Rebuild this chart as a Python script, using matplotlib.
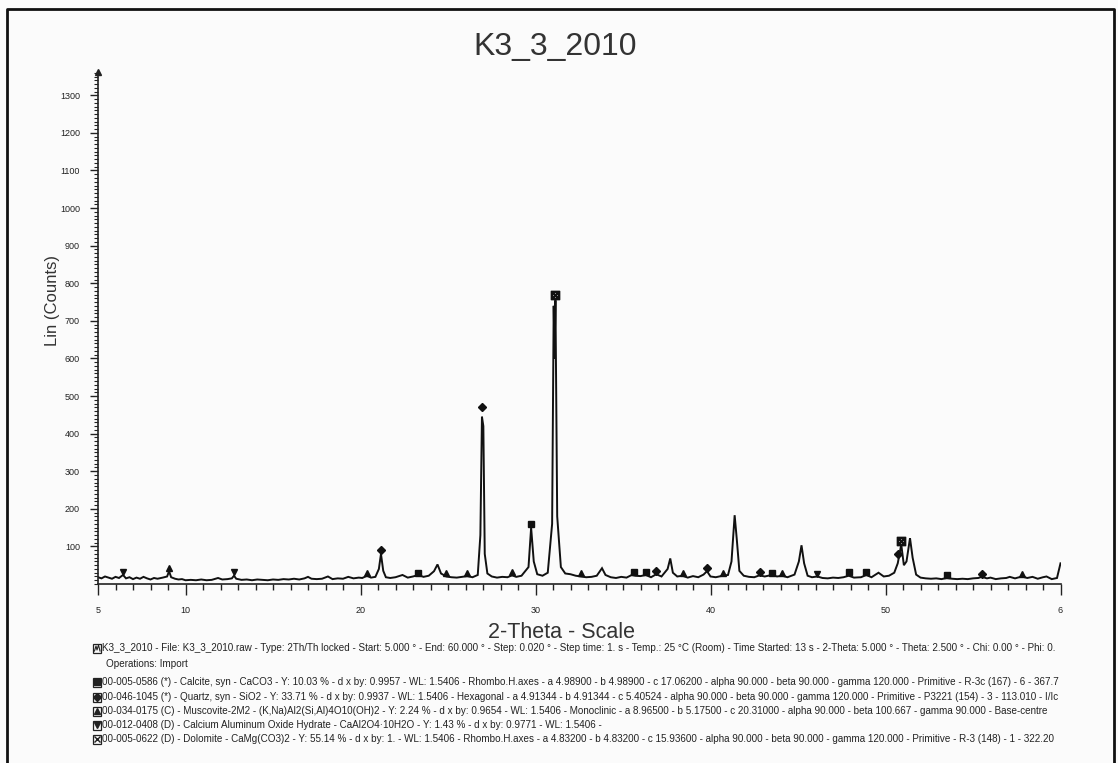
import matplotlib
matplotlib.use('Agg')
import matplotlib.pyplot as plt
from matplotlib.patches import Rectangle
from matplotlib.ticker import MultipleLocator

plt.rcParams['font.family'] = ['Liberation Sans', 'DejaVu Sans']

# Scan K3_3_2010 (2-theta, counts)
two_theta = [5.00, 5.2, 5.4, 5.6, 5.8, 6.0, 6.2, 6.43, 6.6, 6.8, 7.0, 7.2, 7.4, 7.6, 7.8,
             8.0, 8.2, 8.4, 8.7, 8.95, 9.06, 9.18, 9.4, 9.6, 9.8, 10.0, 10.3, 10.6, 10.9,
             11.2, 11.5, 11.86, 12.1, 12.4, 12.65, 12.77, 12.9, 13.2, 13.5, 13.8, 14.1,
             14.4, 14.7, 15.0, 15.3, 15.6, 15.9, 16.2, 16.5, 16.8, 17.0, 17.2, 17.5, 17.8,
             18.14, 18.4, 18.7, 19.0, 19.3, 19.6, 19.9, 20.1, 20.37, 20.6, 20.85, 21.05,
             21.17, 21.3, 21.45, 21.7, 22.0, 22.4, 22.7, 23.0, 23.3, 23.6, 23.9, 24.2,
             24.4, 24.6, 24.9, 25.2, 25.5, 25.8, 26.1, 26.4, 26.7, 26.85, 26.94, 27.02,
             27.1, 27.25, 27.5, 27.8, 28.1, 28.4, 28.66, 28.9, 29.2, 29.6, 29.75, 29.9,
             30.1, 30.4, 30.7, 30.95, 31.04, 31.09, 31.14, 31.24, 31.45, 31.7, 32.0, 32.3,
             32.6, 32.9, 33.2, 33.5, 33.8, 34.0, 34.3, 34.6, 34.9, 35.2, 35.5, 35.7, 36.0,
             36.3, 36.6, 36.9, 37.2, 37.55, 37.7, 37.85, 38.1, 38.4, 38.7, 39.0, 39.3,
             39.6, 39.8, 40.0, 40.3, 40.7, 41.0, 41.2, 41.38, 41.5, 41.65, 41.9, 42.2,
             42.5, 42.8, 43.1, 43.5, 43.8, 44.1, 44.4, 44.8, 45.05, 45.2, 45.35, 45.55,
             45.8, 46.1, 46.4, 46.7, 47.0, 47.3, 47.6, 47.9, 48.2, 48.6, 48.9, 49.2, 49.6,
             49.9, 50.2, 50.5, 50.7, 50.9, 51.05, 51.2, 51.4, 51.55, 51.75, 52.0, 52.3,
             52.6, 52.9, 53.2, 53.5, 53.8, 54.1, 54.4, 54.7, 55.0, 55.3, 55.5, 55.8, 56.0,
             56.3, 56.6, 56.9, 57.1, 57.4, 57.8, 58.1, 58.4, 58.7, 59.0, 59.2, 59.5, 59.8,
             60.0]
counts = [18, 15, 20, 17, 14, 19, 16, 24, 15, 18, 13, 17, 14, 19, 15,
          12, 16, 14, 17, 20, 34, 18, 14, 12, 13, 10, 11, 10, 12,
          10, 11, 16, 12, 13, 15, 22, 14, 11, 12, 10, 12,
          11, 10, 12, 11, 13, 12, 14, 12, 15, 19, 14, 13, 14,
          20, 13, 15, 14, 19, 15, 17, 16, 22, 17, 19, 40,
          80, 35, 18, 16, 18, 24, 17, 20, 24, 19, 22, 34,
          52, 28, 20, 18, 17, 19, 21, 18, 24, 130, 445, 420,
          80, 28, 20, 17, 19, 18, 23, 19, 22, 45, 150, 60,
          26, 22, 30, 160, 740, 600, 755, 180, 45, 28, 26, 22,
          20, 18, 19, 22, 42, 24, 18, 16, 19, 17, 24, 22, 21,
          24, 18, 26, 20, 40, 68, 30, 20, 22, 17, 21, 18,
          25, 34, 20, 18, 22, 24, 60, 183, 120, 35, 22, 19,
          18, 23, 20, 24, 20, 22, 18, 25, 60, 103, 55, 22,
          18, 20, 16, 15, 17, 16, 18, 22, 17, 18, 24, 18, 30,
          20, 22, 30, 55, 105, 50, 60, 122, 70, 25, 17, 15,
          14, 15, 13, 16, 14, 13, 14, 13, 15, 16, 19, 15, 17,
          13, 15, 16, 19, 15, 20, 16, 19, 14, 18, 20, 13, 16,
          55]

# phase markers (2-theta, marker height)
calcite_pos = [23.3, 29.75, 35.6, 36.3, 43.5, 47.9, 48.9, 53.5]
calcite_y = [28, 160, 32, 32, 30, 32, 32, 24]
quartz_pos = [21.17, 26.94, 36.9, 39.8, 42.8, 50.7, 55.5]
quartz_y = [90, 470, 34, 42, 32, 80, 26]
muscovite_pos = [9.06, 20.37, 24.9, 26.1, 28.66, 32.6, 38.4, 40.7, 44.1, 57.8]
muscovite_y = [42, 30, 30, 30, 32, 30, 28, 30, 30, 26]
caal_pos = [6.43, 12.77, 46.1]
caal_y = [32, 32, 26]
dolomite_pos = [31.09, 50.9]
dolomite_y = [770, 114]

x_ticks = [5, 10, 20, 30, 40, 50, 60]
x_tick_labels = ['5', '10', '20', '30', '40', '50', '6']
y_ticks = list(range(100, 1400, 100))

legend_lines = [
    "K3_3_2010 - File: K3_3_2010.raw - Type: 2Th/Th locked - Start: 5.000 \u00b0 - End: 60.000 \u00b0 - Step: 0.020 \u00b0 - Step time: 1. s - Temp.: 25 \u00b0C (Room) - Time Started: 13 s - 2-Theta: 5.000 \u00b0 - Theta: 2.500 \u00b0 - Chi: 0.00 \u00b0 - Phi: 0.",
    "Operations: Import",
    "00-005-0586 (*) - Calcite, syn - CaCO3 - Y: 10.03 % - d x by: 0.9957 - WL: 1.5406 - Rhombo.H.axes - a 4.98900 - b 4.98900 - c 17.06200 - alpha 90.000 - beta 90.000 - gamma 120.000 - Primitive - R-3c (167) - 6 - 367.7",
    "00-046-1045 (*) - Quartz, syn - SiO2 - Y: 33.71 % - d x by: 0.9937 - WL: 1.5406 - Hexagonal - a 4.91344 - b 4.91344 - c 5.40524 - alpha 90.000 - beta 90.000 - gamma 120.000 - Primitive - P3221 (154) - 3 - 113.010 - I/Ic",
    "00-034-0175 (C) - Muscovite-2M2 - (K,Na)Al2(Si,Al)4O10(OH)2 - Y: 2.24 % - d x by: 0.9654 - WL: 1.5406 - Monoclinic - a 8.96500 - b 5.17500 - c 20.31000 - alpha 90.000 - beta 100.667 - gamma 90.000 - Base-centre",
    "00-012-0408 (D) - Calcium Aluminum Oxide Hydrate - CaAl2O4\u00b710H2O - Y: 1.43 % - d x by: 0.9771 - WL: 1.5406 -",
    "00-005-0622 (D) - Dolomite - CaMg(CO3)2 - Y: 55.14 % - d x by: 1. - WL: 1.5406 - Rhombo.H.axes - a 4.83200 - b 4.83200 - c 15.93600 - alpha 90.000 - beta 90.000 - gamma 120.000 - Primitive - R-3 (148) - 1 - 322.20",
]

W, H = 1118, 763
fig = plt.figure(figsize=(W / 100, H / 100), dpi=100, facecolor='#fbfbfb')

ax = fig.add_axes([98 / W, 1 - 584 / H, (1060.5 - 98) / W, (584 - 72) / H])
ax.set_facecolor('none')
ax.plot(two_theta, counts, color='#111111', lw=1.4, solid_joinstyle='miter')

mk = dict(ls='none', color='#111111', ms=4.5)
ax.plot(calcite_pos, calcite_y, marker='s', **mk)
ax.plot(quartz_pos, quartz_y, marker='D', **dict(mk, ms=4))
ax.plot(muscovite_pos, muscovite_y, marker='^', **mk)
ax.plot(caal_pos, caal_y, marker='v', **mk)
ax.plot(dolomite_pos, dolomite_y, marker=r'$\boxtimes$', **dict(mk, ms=6))

ax.set_xlim(5, 60)
ax.set_ylim(0, 1362)
for s in ['top', 'right']:
    ax.spines[s].set_visible(False)
for s in ['left', 'bottom']:
    ax.spines[s].set_linewidth(1.2)
    ax.spines[s].set_color('#222222')

ax.set_xticks(x_ticks)
ax.set_xticklabels(x_tick_labels)
ax.xaxis.set_minor_locator(MultipleLocator(1))
ax.set_yticks(y_ticks)
ax.yaxis.set_minor_locator(MultipleLocator(10))
ax.tick_params(axis='x', which='major', length=8, width=1, pad=8, labelsize=6.5, colors='#222222')
ax.tick_params(axis='x', which='minor', length=4, width=1, colors='#222222')
ax.tick_params(axis='y', which='major', length=6, width=1, pad=7, labelsize=6.5, colors='#222222')
ax.tick_params(axis='y', which='minor', length=3, width=0.8, colors='#222222')

# arrow at the top of the y axis
ax.plot([0], [1], marker='^', color='#222222', ms=5, transform=ax.transAxes, clip_on=False)

fig.text(555 / W, 1 - 47 / H, 'K3_3_2010', ha='center', va='center', fontsize=23, color='#333333')
fig.text(52 / W, 1 - 300 / H, 'Lin (Counts)', ha='center', va='center', rotation=90,
         fontsize=12, color='#333333')
fig.text(562 / W, 1 - 632 / H, '2-Theta - Scale', ha='center', va='center', fontsize=15.5,
         color='#333333')

# overlay in pixel coordinates for legend icons and frame
ov = fig.add_axes([0, 0, 1, 1])
ov.set_xlim(0, W)
ov.set_ylim(H, 0)
ov.axis('off')
ov.patch.set_alpha(0)

ov.plot([7, 7, 1114, 1114], [H, 9, 9, H], color='#111111', lw=2)

line_y = [648, 664, 682, 697, 711, 725, 739]
icon_marks = [None, None, 's', 'D', '^', 'v', 'x']
for i, (txt, yy) in enumerate(zip(legend_lines, line_y)):
    if i == 1:
        ov.text(106, yy, txt, fontsize=7.1, va='center', ha='left', color='#222222')
        continue
    ov.add_patch(Rectangle((93, yy - 4.5), 8, 9, fill=False, ec='#222222', lw=0.9))
    if icon_marks[i] is None:
        ov.plot([94.5, 96, 97, 98.5, 100], [yy + 3, yy - 2, yy + 2, yy - 3, yy + 3],
                color='#222222', lw=0.8)
    else:
        ov.plot([97], [yy], marker=icon_marks[i], color='#222222', ms=4, ls='none')
    ov.text(102.5, yy, txt, fontsize=7.1, va='center', ha='left', color='#222222')

fig.savefig('out.png', dpi=100, facecolor=fig.get_facecolor())
